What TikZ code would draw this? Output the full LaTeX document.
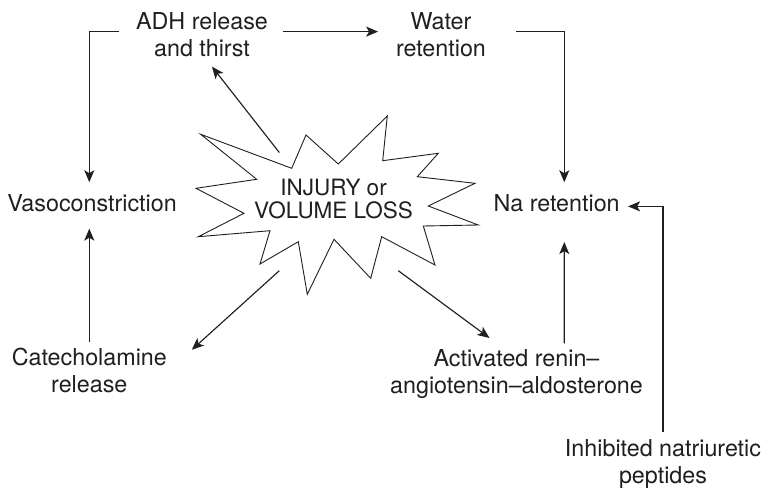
\documentclass[tikz,border=0pt]{standalone}
\usepackage{fontspec}
\setmainfont{TeX Gyre Heros}
\usetikzlibrary{arrows.meta,calc}
\begin{document}
\begin{tikzpicture}[x=1bp,y=-1bp,
  lbl/.style={inner sep=0pt, outer sep=0pt, align=center, text=black!88,
    font=\fontsize{23.3bp}{26.7bp}\selectfont},
  burstlbl/.style={inner sep=0pt, outer sep=0pt, align=center, text=black!88,
    font=\fontsize{22.5bp}{23.3bp}\selectfont},
  arr/.style={line width=1.15bp, draw=black!88, -{Stealth[length=12bp,width=10bp,inset=3bp]}},
  burst/.style={line width=0.9bp, draw=black!88, line join=miter}]
\useasboundingbox (0,0) rectangle (761,488);

% starburst
\draw[burst] (200.7,134.3) -- (291.7,168.3) -- (306,135) -- (338.3,164) -- (387.3,116)
  -- (382.7,160.7) -- (438.3,153.3) -- (417.3,176.7) -- (475,183.3) -- (428.3,206)
  -- (478.3,225) -- (423.3,226) -- (435,265) -- (381.7,236.7) -- (370.7,278.3)
  -- (334,239.3) -- (307.3,294.3) -- (298.3,241.7) -- (260,264) -- (270,230.7)
  -- (198.3,236.7) -- (244,213.3) -- (196,188.3) -- (256.7,179.3) -- cycle;

% labels
\node[burstlbl, anchor=north] (inj) at (333.5,178.8) {INJURY or\\VOLUME LOSS};
\node[lbl, anchor=north] (adh) at (202,12.6) {ADH release\\and thirst};
\node[lbl, anchor=north] (water) at (441,12.6) {Water\\retention};
\node[lbl, anchor=base] (vaso) at (92,211.7) {Vasoconstriction};
\node[lbl, anchor=base] (na) at (556.7,211.7) {Na retention};
\node[lbl, anchor=north] (cat) at (89.3,348.3) {Catecholamine\\release};
\node[lbl, anchor=north] (ras) at (516.5,350) {Activated renin--\\angiotensin--aldosterone};
\node[lbl, anchor=north] (inh) at (663,440) {Inhibited natriuretic\\peptides};

% arrow starts at the burst
\coordinate (sA) at (279.3,152.5);
\coordinate (sB) at (279.3,270.7);
\coordinate (sC) at (398.3,270.7);

% connectors
\draw[arr] (sA) -- ([xshift=10bp,yshift=-10bp]adh.south);
\draw[arr] (sB) -- ([xshift=25bp,yshift=-1.5bp]cat.north east);
\draw[arr] (sC) -- ([xshift=-27bp,yshift=12bp]ras.north);
\draw[arr] ([xshift=-17bp,yshift=3bp]adh.west) -| ($(cat.north |- vaso.north)+(0,-12.5)$);
\draw[arr] ([yshift=6.5bp]cat.north) -- ($(cat.north |- vaso.south)+(0,16.6)$);
\draw[arr] ([xshift=15bp,yshift=3bp]adh.east) -- ([xshift=-18bp,yshift=3bp]water.west);
\draw[arr] ([xshift=30.5bp,yshift=3bp]water.east) -| ([xshift=7.6bp,yshift=12.5bp]na.north);
\draw[arr] ([xshift=47.8bp,yshift=6.7bp]ras.north) -- ([xshift=7.6bp,yshift=-30bp]na.south);
\draw[arr] ([yshift=7.7bp]inh.north) |- ([xshift=8.4bp,yshift=-3bp]na.east);
\end{tikzpicture}
\end{document}
